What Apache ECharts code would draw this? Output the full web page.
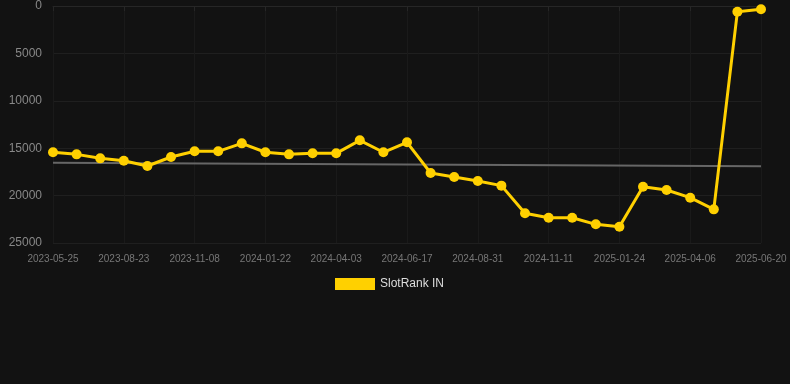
<!DOCTYPE html>
<html>
<head>
<meta charset="utf-8">
<script src="https://cdn.jsdelivr.net/npm/echarts@6/dist/echarts.min.js"></script>
<style>
  html, body { margin: 0; padding: 0; background: #121212; }
  #chart { width: 790px; height: 384px; }
</style>
</head>
<body>
<div id="chart"></div>
<script>
// categories (only every 3rd label is shown on the axis)
const dates = [
  '2023-05-25', '2023-06-24', '2023-07-24', '2023-08-23', '2023-09-17', '2023-10-13',
  '2023-11-08', '2023-12-03', '2023-12-28', '2024-01-22', '2024-02-15', '2024-03-10',
  '2024-04-03', '2024-04-28', '2024-05-23', '2024-06-17', '2024-07-12', '2024-08-06',
  '2024-08-31', '2024-09-24', '2024-10-18', '2024-11-11', '2024-12-06', '2024-12-30',
  '2025-01-24', '2025-02-17', '2025-03-13', '2025-04-06', '2025-05-01', '2025-05-26',
  '2025-06-20'
]
const rankValues = [
  15430, 15650, 16070, 16320, 16880, 15930,
  15330, 15330, 14490, 15430, 15650, 15540,
  15540, 14170, 15430, 14380, 17620, 18040,
  18460, 18950, 21870, 22330, 22330, 23030,
  23280, 19060, 19410, 20220, 21450, 600,
  350
]
// trend line end points
const trendStart = 16530
const trendEnd = 16910
const yTicks = [0, 5000, 10000, 15000, 20000, 25000]

let myChart = echarts.init(document.getElementById('chart'))
let option = {
  backgroundColor: '#121212',
  animation: false,
  grid: {
    left: 53,
    right: 29,
    top: 6,
    bottom: 141
  },
  legend: {
    data: [{ name: 'SlotRank IN', icon: 'rect' }],
    top: 273,
    left: 330,
    itemWidth: 40,
    itemHeight: 12,
    itemGap: 6,
    textStyle: {
      color: '#dddddd',
      fontSize: 12,
      fontFamily: 'Liberation Sans, Arial, sans-serif'
    }
  },
  xAxis: {
    type: 'category',
    data: dates,
    boundaryGap: false,
    axisLine: {
      lineStyle: { color: '#262626' }
    },
    axisTick: {
      show: true,
      interval: 2,
      lineStyle: { color: '#262626' }
    },
    axisLabel: {
      interval: 2,
      color: '#777777',
      fontSize: 10,
      margin: 11,
      fontFamily: 'Liberation Sans, Arial, sans-serif'
    },
    splitLine: {
      show: true,
      interval: 2,
      lineStyle: { color: '#1a1a1a' }
    }
  },
  yAxis: {
    type: 'value',
    inverse: true,
    min: yTicks[0],
    max: yTicks[yTicks.length - 1],
    interval: 5000,
    axisLine: { show: false },
    axisTick: { show: false },
    axisLabel: {
      color: '#888888',
      fontSize: 12,
      margin: 11,
      fontFamily: 'Liberation Sans, Arial, sans-serif',
      formatter: function (val) {
        return String(val)
      }
    },
    splitLine: {
      lineStyle: { color: '#1f1f1f' }
    }
  },
  series: [
    {
      name: 'trend',
      type: 'line',
      data: [[dates[0], trendStart], [dates[dates.length - 1], trendEnd]],
      showSymbol: false,
      lineStyle: { color: '#666666', width: 2 },
      silent: true,
      z: 1
    },
    {
      name: 'SlotRank IN',
      type: 'line',
      data: rankValues,
      symbol: 'circle',
      symbolSize: 10,
      itemStyle: { color: '#FFD000' },
      lineStyle: { color: '#FFD000', width: 3 },
      z: 2
    }
  ]
}
myChart.setOption(option)
</script>
</body>
</html>
